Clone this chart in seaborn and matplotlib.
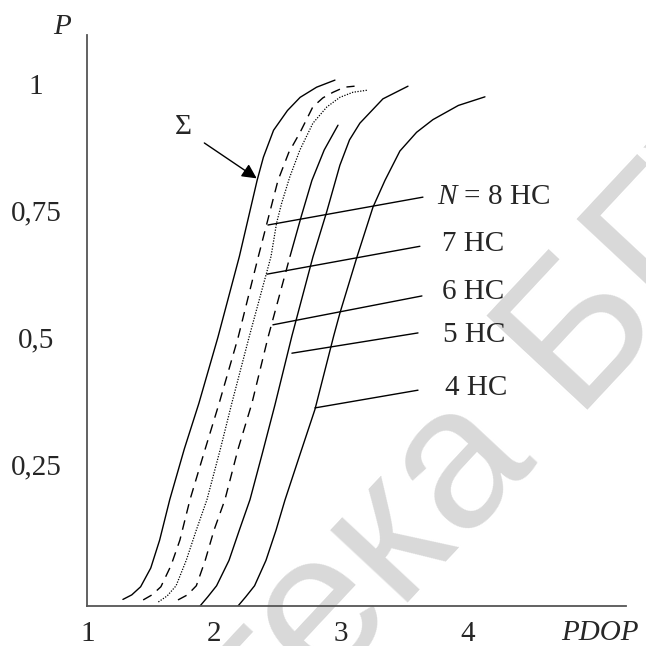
import matplotlib
matplotlib.use('Agg')
import matplotlib.pyplot as plt
import seaborn as sns

# curves: PDOP value and probability P
pdop_sum = [1.28, 1.35, 1.42, 1.50, 1.57, 1.65, 1.765, 1.88, 2.03, 2.20, 2.34, 2.39, 2.47, 2.58, 2.68, 2.81, 2.955]
p_sum = [-0.017, -0.008, 0.008, 0.045, 0.10, 0.18, 0.28, 0.37, 0.50, 0.66, 0.81, 0.856, 0.909, 0.948, 0.974, 0.994, 1.008]

pdop_8 = [1.44, 1.51, 1.58, 1.66, 1.73, 1.81, 1.93, 2.04, 2.19, 2.35, 2.505, 2.59, 2.68, 2.78, 2.86, 2.94, 3.03, 3.11]
p_8 = [-0.018, -0.008, 0.008, 0.05, 0.10, 0.18, 0.28, 0.37, 0.50, 0.66, 0.81, 0.865, 0.905, 0.955, 0.973, 0.984, 0.994, 0.996]

pdop_7 = [1.56, 1.63, 1.70, 1.78, 1.86, 1.944, 2.05, 2.14, 2.276, 2.45, 2.494, 2.534, 2.597, 2.678, 2.781, 2.891, 2.994, 3.097, 3.208]
p_7 = [-0.022, -0.01, 0.01, 0.06, 0.12, 0.18, 0.28, 0.37, 0.50, 0.66, 0.726, 0.765, 0.816, 0.87, 0.923, 0.955, 0.974, 0.984, 0.988]

pdop_6 = [1.715, 1.79, 1.86, 1.93, 2.00, 2.086, 2.19, 2.299, 2.426, 2.60, 2.69, 2.773, 2.87, 2.979]
p_6 = [-0.018, -0.008, 0.01, 0.06, 0.12, 0.18, 0.28, 0.37, 0.50, 0.66, 0.74, 0.81, 0.87, 0.919]
solid_from_6 = 9  # upper part of the 6 HC curve is drawn solid

pdop_5 = [1.889, 1.95, 2.02, 2.118, 2.20, 2.284, 2.38, 2.481, 2.615, 2.781, 2.891, 2.994, 3.07, 3.152, 3.334, 3.532]
p_5 = [-0.03, -0.012, 0.01, 0.06, 0.12, 0.18, 0.27, 0.367, 0.503, 0.659, 0.749, 0.84, 0.89, 0.923, 0.971, 0.996]

pdop_4 = [2.189, 2.25, 2.32, 2.41, 2.49, 2.56, 2.68, 2.797, 2.945, 2.994, 3.129, 3.255, 3.35, 3.468, 3.60, 3.729, 3.93, 4.14]
p_4 = [-0.03, -0.012, 0.01, 0.06, 0.12, 0.179, 0.27, 0.358, 0.503, 0.548, 0.659, 0.757, 0.81, 0.868, 0.905, 0.93, 0.958, 0.975]

# leader lines: (x0, y0, x1, y1) and labels
labels = ['$N$ = 8 НС', '7 НС', '6 НС', '5 НС', '4 НС']
leaders = [(2.426, 0.722, 3.650, 0.777),
           (2.418, 0.625, 3.626, 0.680),
           (2.465, 0.525, 3.642, 0.582),
           (2.615, 0.469, 3.611, 0.509),
           (2.797, 0.361, 3.611, 0.396)]
label_pos = [(3.765, 0.777), (3.80, 0.684), (3.80, 0.590), (3.807, 0.505), (3.823, 0.400)]

x_ticks = [1, 2, 3, 4, 5.13]
x_ticklabels = ['1', '2', '3', '4', '']
y_ticks = [0.25, 0.5, 0.75, 1.0]
y_ticklabels = ['0,25', '0,5', '0,75', '1']

sns.set_style('white')
plt.rcParams['font.family'] = ['Liberation Serif', 'DejaVu Serif']
plt.rcParams['mathtext.fontset'] = 'custom'
plt.rcParams['mathtext.it'] = 'Liberation Serif:italic'
plt.rcParams['mathtext.rm'] = 'Liberation Serif'

fs = 21
fig = plt.figure(figsize=(6.46, 6.46), dpi=100)
ax = fig.add_axes([0.1354, 0.0619, 0.8336, 0.8839])
ax.patch.set_alpha(0)

lw = 1.0
sns.lineplot(x=pdop_sum, y=p_sum, ax=ax, color='black', lw=lw, sort=False, estimator=None)
sns.lineplot(x=pdop_8, y=p_8, ax=ax, color='black', lw=lw, sort=False, estimator=None,
             linestyle=(0, (7, 5)))
sns.lineplot(x=pdop_7, y=p_7, ax=ax, color='black', lw=0.9, sort=False, estimator=None,
             linestyle=(0, (1, 1.2)))
sns.lineplot(x=pdop_6[:solid_from_6 + 1], y=p_6[:solid_from_6 + 1], ax=ax, color='black', lw=lw,
             sort=False, estimator=None, linestyle=(0, (7, 5)))
sns.lineplot(x=pdop_6[solid_from_6:], y=p_6[solid_from_6:], ax=ax, color='black', lw=lw,
             sort=False, estimator=None)
sns.lineplot(x=pdop_5, y=p_5, ax=ax, color='black', lw=lw, sort=False, estimator=None)
sns.lineplot(x=pdop_4, y=p_4, ax=ax, color='black', lw=lw, sort=False, estimator=None)

for (x0, y0, x1, y1), lab, (tx, ty) in zip(leaders, labels, label_pos):
    ax.plot([x0, x1], [y0, y1], color='black', lw=lw)
    ax.text(tx, ty, lab, fontsize=fs, ha='left', va='center')

# sigma label with arrow
ax.text(1.755, 0.915, 'Σ', fontsize=fs, ha='center', va='center')
ax.annotate('', xy=(2.355, 0.811), xytext=(1.905, 0.887),
            arrowprops=dict(arrowstyle='-|>', color='black', lw=1.0, mutation_scale=22))

ax.set_xlim(1, 5.254)
ax.set_ylim(-0.030, 1.097)
ax.set_xticks(x_ticks)
ax.set_xticklabels(x_ticklabels, fontsize=fs)
ax.set_yticks(y_ticks)
ax.set_yticklabels(y_ticklabels, fontsize=fs, ha='center')
ax.tick_params(axis='x', direction='in', length=12, width=1.0, color='#333333', pad=11)
ax.tick_params(axis='y', direction='in', length=7, width=1.0, color='#333333', pad=37)

for s in ['top', 'right']:
    ax.spines[s].set_visible(False)
for s in ['left', 'bottom']:
    ax.spines[s].set_color('#555555')
    ax.spines[s].set_linewidth(1.3)

# axis names
ax.text(0.80, 1.112, 'P', fontsize=fs, style='italic', ha='center', va='center', clip_on=False)
ax.text(5.05, -0.0835, 'PDOP', fontsize=fs, style='italic', ha='center', va='center', clip_on=False)

# library watermark, behind the chart
fig.text(-0.322, -0.956, 'Библиотека БГУИР', rotation=47, rotation_mode='anchor',
         ha='left', va='baseline', fontsize=145, color='#d9d9d9', family='Liberation Sans', zorder=-1)

fig.savefig('out.png', dpi=100)
